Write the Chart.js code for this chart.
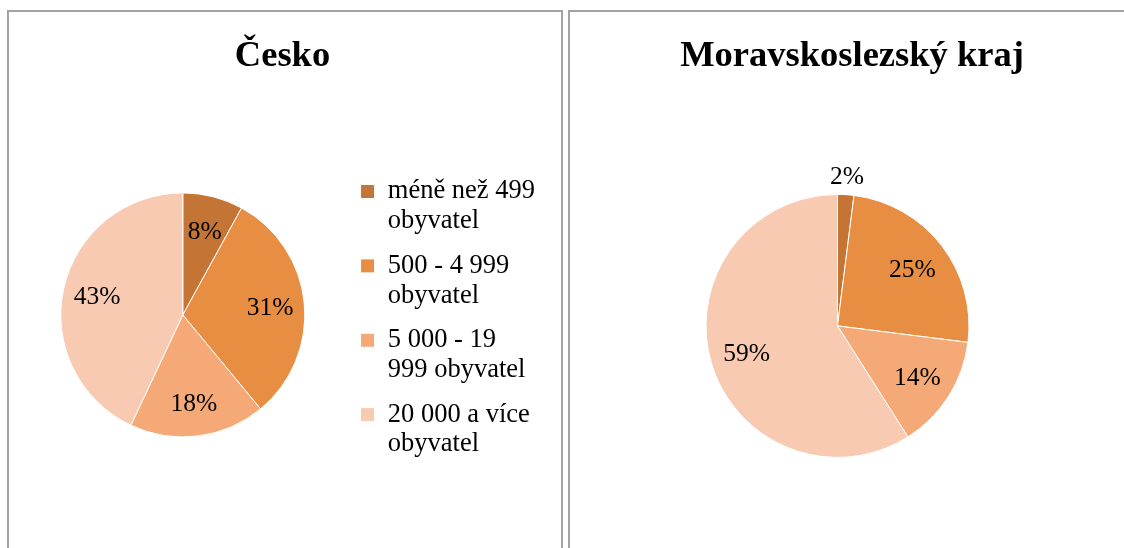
<!DOCTYPE html>
<html>
<head>
<meta charset="utf-8">
<script src="https://cdn.jsdelivr.net/npm/chart.js@4"></script>
<style>
  body { margin: 0; background: #fff; width: 1124px; height: 548px; overflow: hidden; position: relative; }
  .panel { position: absolute; top: 10px; height: 600px; border: 2px solid #a3a3a3; background: #fff; overflow: hidden; }
  #p1 { left: 7px; width: 552px; }
  #p2 { left: 568px; width: 600px; }
  canvas { position: absolute; left: 0; top: 0; }
</style>
</head>
<body>
<div class="panel" id="p1"><canvas id="cesko" width="552" height="560"></canvas></div>
<div class="panel" id="p2"><canvas id="msk" width="564" height="560"></canvas></div>
<script>
const categories = [
    ["méně než 499", "obyvatel"],
    ["500 - 4 999", "obyvatel"],
    ["5 000 - 19", "999 obyvatel"],
    ["20 000 a více", "obyvatel"]
];
const ceskoValues = [8, 31, 18, 43];
const mskValues = [2, 25, 14, 59];
const sliceColors = ["#c47535", "#e88e42", "#f5a977", "#f8cab2"];

const serif = "'Liberation Serif', 'Times New Roman', serif";

// percent labels inside slices, tiny slices get pushed outside
const pctLabels = {
    id: "pctLabels",
    afterDatasetsDraw(chart) {
        const ctx = chart.ctx;
        const meta = chart.getDatasetMeta(0);
        const values = chart.data.datasets[0].data;
        const total = values.reduce((a, b) => a + b, 0);
        ctx.save();
        ctx.font = "25.5px " + serif;
        ctx.fillStyle = "#000";
        ctx.textAlign = "center";
        ctx.textBaseline = "middle";
        meta.data.forEach((arc, i) => {
            const p = arc.getProps(["x", "y", "startAngle", "endAngle", "outerRadius"], true);
            const mid = (p.startAngle + p.endAngle) / 2;
            const frac = values[i] / total;
            const dist = frac < 0.05 ? p.outerRadius * 1.15 : p.outerRadius * 0.72;
            ctx.fillText(values[i] + "%", p.x + Math.cos(mid) * dist, p.y + Math.sin(mid) * dist + 2);
        });
        ctx.restore();
    }
};

function titleOpts(text) {
    return {
        display: true,
        text: text,
        color: "#000",
        font: { family: serif, size: 36.5, weight: "bold" },
        padding: { top: 23, bottom: 10 }
    };
}

new Chart(document.getElementById("cesko"), {
    type: "pie",
    data: {
        labels: categories,
        datasets: [{
            data: ceskoValues,
            backgroundColor: sliceColors,
            borderColor: "#fff",
            borderWidth: 1
        }]
    },
    options: {
        responsive: false,
        animation: false,
        radius: 122,
        layout: { padding: { left: 11, right: 16, bottom: 31 } },
        plugins: {
            title: titleOpts("Česko"),
            tooltip: { enabled: false },
            legend: {
                position: "right",
                align: "center",
                title: { display: true, text: "", font: { size: 10, lineHeight: 1 }, padding: { top: 76, bottom: 0 } },
                labels: {
                    color: "#000",
                    font: { family: serif, size: 26.5, lineHeight: 1.12 },
                    boxWidth: 14,
                    boxHeight: 14,
                    padding: 15
                }
            }
        }
    },
    plugins: [pctLabels]
});

// no legend here, but an empty one keeps the pie a bit left of the title
new Chart(document.getElementById("msk"), {
    type: "pie",
    data: {
        labels: categories,
        datasets: [{
            data: mskValues,
            backgroundColor: sliceColors,
            borderColor: "#fff",
            borderWidth: 1
        }]
    },
    options: {
        responsive: false,
        animation: false,
        radius: 131.5,
        layout: { padding: { left: 0, right: 0, bottom: 9 } },
        plugins: {
            title: titleOpts("Moravskoslezský kraj"),
            tooltip: { enabled: false },
            legend: {
                position: "right",
                labels: { padding: 19, filter: () => false }
            }
        }
    },
    plugins: [pctLabels]
});
</script>
</body>
</html>
